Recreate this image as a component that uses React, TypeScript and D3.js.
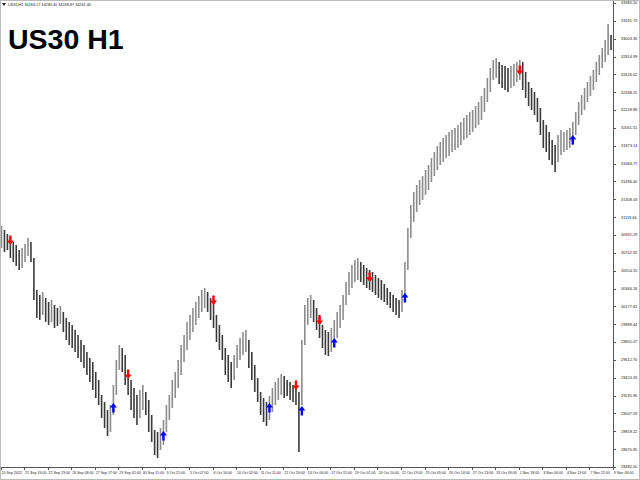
import * as d3 from 'd3';
import { useEffect, useRef } from 'react';

// hourly bars (high / low)
const highs = [
    31027, 30984, 30942, 30900, 30858, 30826, 30773, 30794, 30837, 30900, 30858, 30689, 30351, 30298, 30330, 30267,
    30224, 30245, 30193, 30161, 30182, 30119, 30055, 30013, 29982, 29929, 29876, 29823, 29770, 29697, 29633, 29591,
    29485, 29401, 29243, 29169, 29084, 29137, 29348, 29612, 29770, 29739, 29665, 29507, 29401, 29317, 29243, 29296,
    29348, 29274, 29190, 29032, 28873, 28852, 28894, 28979, 29137, 29243, 29401, 29485, 29612, 29770, 29876, 30013,
    30087, 30161, 30224, 30288, 30351, 30372, 30330, 30267, 30224, 30087, 29982, 29876, 29739, 29665, 29591, 29665,
    29770, 29844, 29908, 29929, 29823, 29697, 29559, 29422, 29274, 29211, 29169, 29232, 29317, 29380, 29422, 29464,
    29443, 29401, 29380, 29348, 29317, 29274, 29823, 30193, 30267, 30298, 30245, 30161, 30087, 29982, 29929, 29908,
    29950, 30034, 30119, 30193, 30298, 30435, 30541, 30615, 30668, 30689, 30647, 30615, 30583, 30562, 30541, 30509,
    30478, 30457, 30414, 30372, 30330, 30298, 30267, 30245, 30351, 30647, 31005, 31248, 31385, 31459, 31512, 31554,
    31618, 31670, 31744, 31808, 31871, 31913, 31955, 31987, 32019, 32040, 32061, 32093, 32124, 32166, 32198, 32230,
    32251, 32293, 32335, 32399, 32483, 32589, 32694, 32779, 32800, 32758, 32726, 32715, 32694, 32715, 32736, 32758,
    32779, 32758, 32652, 32546, 32483, 32441, 32378, 32272, 32145, 32093, 32019, 31934, 31881, 31987, 32040, 32019,
    32040, 32061, 32124, 32230, 32335, 32409, 32483, 32546, 32610, 32673, 32758, 32831, 32905, 32990, 33159, 33043,
];
const lows = [
    30794, 30752, 30773, 30689, 30647, 30604, 30562, 30583, 30647, 30710, 30647, 30245, 30055, 30034, 30087, 30013,
    29982, 30013, 29950, 29971, 29992, 29908, 29823, 29770, 29739, 29697, 29633, 29591, 29528, 29454, 29380, 29296,
    29211, 29137, 29000, 28894, 28810, 28852, 29032, 29243, 29507, 29485, 29348, 29243, 29084, 29000, 28926, 29000,
    29084, 29032, 28852, 28747, 28609, 28578, 28662, 28715, 28852, 28979, 29106, 29211, 29317, 29454, 29591, 29718,
    29823, 29908, 29982, 30055, 30119, 30161, 30119, 30034, 29950, 29802, 29718, 29612, 29454, 29380, 29317, 29401,
    29528, 29612, 29665, 29697, 29528, 29401, 29274, 29169, 29032, 28958, 28916, 28979, 29063, 29137, 29190, 29243,
    29211, 29232, 29190, 29169, 29137, 28641, 29137, 29770, 29982, 30055, 30013, 29929, 29844, 29739, 29665, 29654,
    29697, 29770, 29844, 29950, 30034, 30193, 30298, 30372, 30435, 30457, 30435, 30404, 30372, 30351, 30330, 30298,
    30267, 30245, 30224, 30193, 30161, 30119, 30087, 30055, 30119, 30245, 30562, 30900, 31069, 31174, 31248, 31301,
    31354, 31406, 31491, 31554, 31618, 31670, 31702, 31744, 31765, 31808, 31829, 31850, 31881, 31934, 31955, 31987,
    32019, 32061, 32093, 32145, 32230, 32335, 32441, 32568, 32589, 32525, 32483, 32462, 32441, 32483, 32504, 32546,
    32568, 32462, 32378, 32293, 32251, 32198, 32124, 31987, 31850, 31808, 31723, 31670, 31596, 31702, 31776, 31808,
    31829, 31850, 31881, 31987, 32093, 32198, 32251, 32335, 32399, 32462, 32546, 32620, 32694, 32758, 32831, 32884,
];

// signal arrows: bar index and price
const sellBars = [3, 43, 72, 100, 108, 125, 176];
const sellPrices = [30879, 29464, 30245, 29348, 30034, 30488, 32673];
const buyBars = [38, 55, 91, 102, 113, 137, 194];
const buyPrices = [29106, 28810, 29106, 29074, 29792, 30267, 31934];

const timeLabels = [
    '20 Sep 2022', '21 Sep 16:00', '22 Sep 23:00', '26 Sep 08:00', '27 Sep 17:00', '29 Sep 02:00', '30 Sep 11:00',
    '3 Oct 21:00', '5 Oct 07:00', '6 Oct 16:00', '10 Oct 02:00', '11 Oct 11:00', '12 Oct 20:00', '14 Oct 06:00',
    '17 Oct 15:00', '19 Oct 01:00', '20 Oct 10:00', '21 Oct 19:00', '25 Oct 05:00', '26 Oct 14:00', '27 Oct 23:00',
    '31 Oct 09:00', '1 Nov 18:00', '3 Nov 04:00', '4 Nov 13:00', '7 Nov 22:00', '9 Nov 08:00',
];
const priceLabels = [
    33380.1, 33191.73, 33003.36, 32814.99, 32626.62, 32438.25, 32249.88, 32061.51, 31873.14, 31684.77, 31496.4,
    31308.03, 31119.66, 30931.29, 30742.92, 30554.55, 30366.18, 30177.81, 29989.44, 29801.07, 29612.7, 29424.33,
    29235.96, 29047.59, 28859.22, 28670.85, 28482.5,
];
const barsPerLabel = 8;

export default function App() {
    const svgRef = useRef<SVGSVGElement>(null);

    useEffect(() => {
        const w = 640;
        const h = 480;
        const plotRight = 613;
        const plotBottom = 467;
        const font = 'Liberation Sans, Arial, sans-serif';

        const svg = d3.select(svgRef.current);
        svg.selectAll('*').remove();
        svg.attr('width', w).attr('height', h);

        svg.append('rect').attr('width', w).attr('height', h).attr('fill', '#fff');

        const x = d3
            .scaleLinear()
            .domain([0, (timeLabels.length - 1) * barsPerLabel])
            .range([0.5, plotRight]);
        const y = d3
            .scaleLinear()
            .domain([priceLabels[priceLabels.length - 1], priceLabels[0]])
            .range([plotBottom, 3]);

        // bars
        svg.append('g')
            .selectAll('line')
            .data(highs)
            .join('line')
            .attr('x1', (_, i) => x(i) + 1)
            .attr('x2', (_, i) => x(i) + 1)
            .attr('y1', (d) => y(d))
            .attr('y2', (_, i) => y(lows[i]))
            .attr('stroke', (d, i) =>
                i > 0 && d + lows[i] < highs[i - 1] + lows[i - 1] ? '#3a3a3a' : '#8c8c8c'
            )
            .attr('stroke-width', 1.6);

        const arrow = (cx: number, cy: number, up: boolean) => {
            const s = up ? 1 : -1;
            return `M${cx - 3.5},${cy - 0.5 * s} L${cx},${cy - 5 * s} L${cx + 3.5},${cy - 0.5 * s} L${cx + 1.2},${cy - 0.5 * s} L${cx + 1.2},${cy + 4.5 * s} L${cx - 1.2},${cy + 4.5 * s} L${cx - 1.2},${cy - 0.5 * s} Z`;
        };

        svg.append('g')
            .selectAll('path')
            .data(sellBars)
            .join('path')
            .attr('d', (d, i) => arrow(x(d) + 1, y(sellPrices[i]), false))
            .attr('fill', '#ff0000');

        svg.append('g')
            .selectAll('path')
            .data(buyBars)
            .join('path')
            .attr('d', (d, i) => arrow(x(d) + 1, y(buyPrices[i]), true))
            .attr('fill', '#0000ff');

        // axes frame
        svg.append('line')
            .attr('x1', plotRight + 0.5)
            .attr('x2', plotRight + 0.5)
            .attr('y1', 0)
            .attr('y2', plotBottom + 0.5)
            .attr('stroke', '#555');
        svg.append('line')
            .attr('x1', 0)
            .attr('x2', plotRight + 0.5)
            .attr('y1', plotBottom + 0.5)
            .attr('y2', plotBottom + 0.5)
            .attr('stroke', '#555');

        const yTicks = svg.append('g').selectAll('g').data(priceLabels).join('g');
        yTicks
            .append('line')
            .attr('x1', plotRight)
            .attr('x2', plotRight + 3)
            .attr('y1', (d) => Math.round(y(d)) + 0.5)
            .attr('y2', (d) => Math.round(y(d)) + 0.5)
            .attr('stroke', '#555');
        yTicks
            .append('text')
            .attr('x', plotRight + 8)
            .attr('y', (d) => y(d) + 1.4)
            .attr('font-family', font)
            .attr('font-size', 3.9)
            .attr('fill', '#222')
            .text((d) => d.toFixed(2));

        const xTicks = svg.append('g').selectAll('g').data(timeLabels).join('g');
        xTicks
            .append('line')
            .attr('x1', (_, i) => Math.round(x(i * barsPerLabel)) + 0.5)
            .attr('x2', (_, i) => Math.round(x(i * barsPerLabel)) + 0.5)
            .attr('y1', plotBottom)
            .attr('y2', plotBottom + 3)
            .attr('stroke', '#555');
        xTicks
            .append('text')
            .attr('x', (_, i) => x(i * barsPerLabel) + 1)
            .attr('y', plotBottom + 7)
            .attr('font-family', font)
            .attr('font-size', 3.6)
            .attr('fill', '#222')
            .text((d) => d);

        // header
        svg.append('path').attr('d', 'M2,3 L6,3 L4,6 Z').attr('fill', '#222');
        svg.append('text')
            .attr('x', 8)
            .attr('y', 6)
            .attr('font-family', font)
            .attr('font-size', 3.8)
            .attr('fill', '#222')
            .text('US30,H1 34266.17 34284.40 34248.87 34261.40');

        svg.append('text')
            .attr('x', 8)
            .attr('y', 49)
            .attr('font-family', font)
            .attr('font-weight', 'bold')
            .attr('font-size', 28.5)
            .attr('fill', '#000')
            .text('US30 H1');

        svg.append('rect')
            .attr('x', 0.5)
            .attr('y', 0.5)
            .attr('width', w - 1)
            .attr('height', h - 1)
            .attr('fill', 'none')
            .attr('stroke', '#bbb');
    }, []);

    return <svg ref={svgRef} style={{ position: 'absolute', left: 0, top: 0 }}></svg>;
}
